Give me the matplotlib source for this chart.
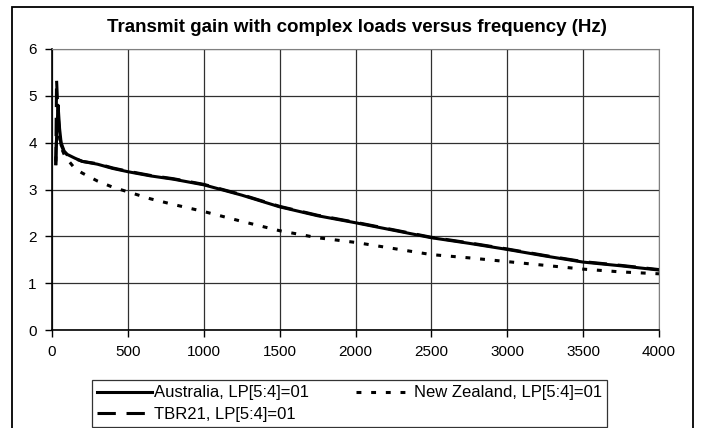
import matplotlib
matplotlib.use('Agg')
import matplotlib.pyplot as plt
from matplotlib.patches import Rectangle

plt.rcParams['font.family'] = ['Liberation Sans', 'DejaVu Sans']

# Frequency points (Hz)
freq = [25, 30, 40, 50, 60, 80, 100, 150, 200, 300, 400, 500, 650, 800, 1000,
        1250, 1500, 1750, 2000, 2250, 2500, 2750, 3000, 3250, 3500, 3750, 4000]

australia = [3.55, 4.1, 4.8, 4.3, 4.0, 3.82, 3.75, 3.67, 3.6, 3.54, 3.45, 3.38, 3.29, 3.22, 3.1,
             2.88, 2.63, 2.44, 2.29, 2.13, 1.97, 1.85, 1.72, 1.58, 1.45, 1.37, 1.28]
new_zealand = [3.6, 4.2, 4.5, 4.1, 3.9, 3.75, 3.65, 3.45, 3.35, 3.18, 3.05, 2.95, 2.8, 2.68, 2.53,
               2.32, 2.12, 1.97, 1.87, 1.74, 1.61, 1.54, 1.46, 1.38, 1.3, 1.24, 1.2]
tbr21 = [3.52, 5.35, 4.6, 4.2, 3.95, 3.8, 3.74, 3.66, 3.6, 3.55, 3.46, 3.39, 3.3, 3.23, 3.11,
         2.89, 2.64, 2.45, 2.3, 2.14, 1.98, 1.86, 1.73, 1.59, 1.46, 1.38, 1.29]

fig = plt.figure(figsize=(7.02, 4.28), dpi=100)
ax = fig.add_axes([52/702, 1 - 330/428, 607/702, 281/428])

l_au, = ax.plot(freq, australia, color='black', lw=2.2, label='Australia, LP[5:4]=01')
l_tb, = ax.plot(freq, tbr21, color='black', lw=2.2, dashes=(6, 3.5), label='TBR21, LP[5:4]=01')
l_nz, = ax.plot(freq, new_zealand, color='black', lw=2.2, dashes=(1.6, 3.2), label='New Zealand, LP[5:4]=01')

ax.set_xlim(0, 4000)
ax.set_ylim(0, 6)
ax.set_xticks(range(0, 4001, 500))
ax.set_yticks(range(0, 7))
ax.grid(True, color='#303030', lw=0.9)
ax.set_axisbelow(True)
ax.tick_params(labelsize=11, length=5, width=1, direction='out', pad=6)
ax.spines['top'].set_color('#808080')
ax.spines['right'].set_color('#808080')
ax.spines['left'].set_linewidth(1.2)
ax.spines['bottom'].set_linewidth(1.2)

fig.text(357/702, 1 - 28/428, 'Transmit gain with complex loads versus frequency (Hz)',
         ha='center', va='center', fontsize=13.5, fontweight='bold')

leg = fig.legend(handles=[l_au, l_tb, l_nz], ncol=2, loc='lower left',
                 bbox_to_anchor=(92/702, 1/428), bbox_transform=fig.transFigure,
                 borderaxespad=0, fontsize=12, handlelength=3.3, handletextpad=0.15,
                 columnspacing=2.8, frameon=True, fancybox=False, edgecolor='black',
                 labelspacing=0.4, borderpad=0.3)
leg.get_frame().set_linewidth(0.9)

fig.add_artist(Rectangle((12/702, -0.1), 681/702, 1.1 - 7/428, transform=fig.transFigure,
                         fill=False, edgecolor='black', lw=1.3))

fig.savefig('out.png', dpi=100)
